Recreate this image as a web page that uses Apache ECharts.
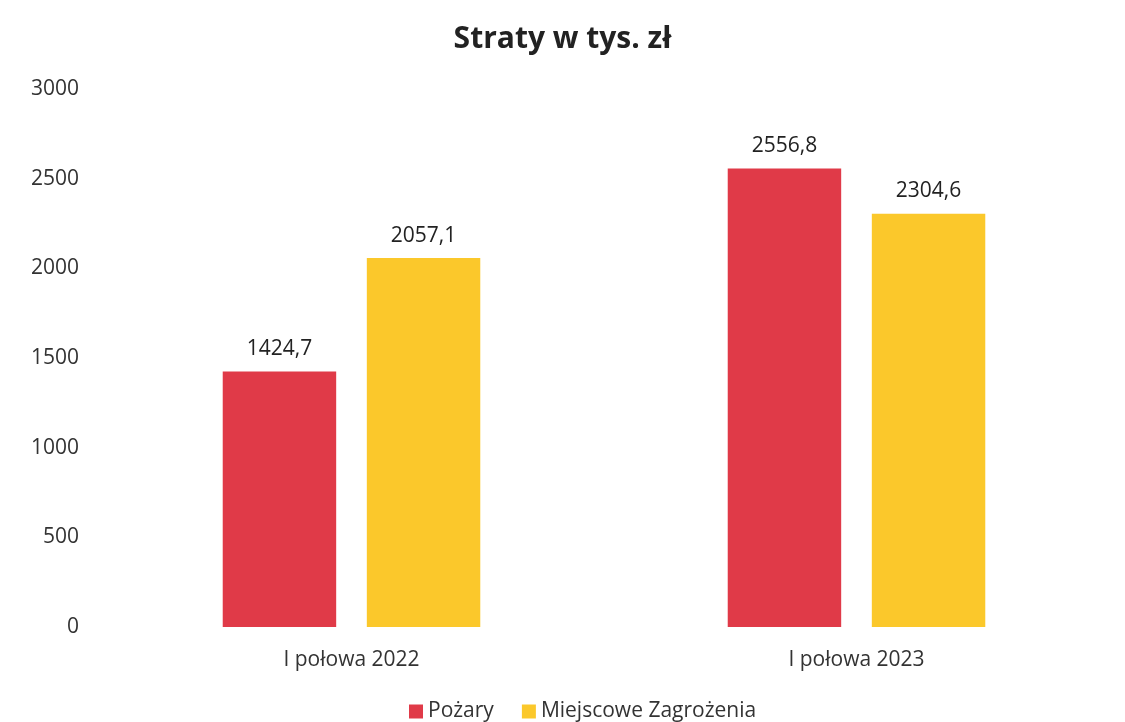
<!DOCTYPE html>
<html>
<head>
<meta charset="utf-8">
<script src="https://cdn.jsdelivr.net/npm/echarts@6/dist/echarts.min.js"></script>
<style>
  html, body { margin: 0; padding: 0; background: #fff; }
  #chart { width: 1125px; height: 722px; }
</style>
</head>
<body>
<div id="chart"></div>
<script>
const categories = ['I połowa 2022', 'I połowa 2023'];
const seriesNames = ['Pożary', 'Miejscowe Zagrożenia'];
const pozary = [1424.7, 2556.8];
const zagrozenia = [2057.1, 2304.6];
const colors = ['#e03a48', '#fbc82b'];

const fontFamily = '"Open Sans", "Noto Sans", sans-serif';
const fmt = v => String(v.value).replace('.', ',');

const chart = echarts.init(document.getElementById('chart'));
const option = {
    animation: false,
    textStyle: { fontFamily: fontFamily },
    title: {
        text: 'Straty w tys. zł',
        left: 'center',
        top: 19,
        textStyle: { fontSize: 30, fontWeight: 'bold', color: '#222', fontFamily: fontFamily }
    },
    legend: {
        bottom: -5,
        left: 404,
        itemWidth: 14,
        itemHeight: 14,
        itemGap: 28,
        icon: 'rect',
        textStyle: { fontSize: 21, color: '#333' },
        data: seriesNames
    },
    grid: { left: 99, right: 16, top: 89, bottom: 95, containLabel: false },
    xAxis: {
        type: 'category',
        data: categories,
        axisLine: { show: false },
        axisTick: { show: false },
        axisLabel: { fontSize: 21, color: '#333', margin: 23 }
    },
    yAxis: {
        type: 'value',
        min: 0,
        max: 3000,
        interval: 500,
        splitLine: { show: false },
        axisLabel: { fontSize: 21, color: '#333', margin: 20, formatter: v => String(v) }
    },
    series: [
        {
            name: seriesNames[0],
            type: 'bar',
            data: pozary,
            itemStyle: { color: colors[0] },
            barGap: '27%',
            barCategoryGap: '49%',
            label: { show: true, position: 'top', distance: 12, fontSize: 21, color: '#222', formatter: fmt }
        },
        {
            name: seriesNames[1],
            type: 'bar',
            data: zagrozenia,
            itemStyle: { color: colors[1] },
            label: { show: true, position: 'top', distance: 12, fontSize: 21, color: '#222', formatter: fmt }
        }
    ]
};
chart.setOption(option);
</script>
</body>
</html>
